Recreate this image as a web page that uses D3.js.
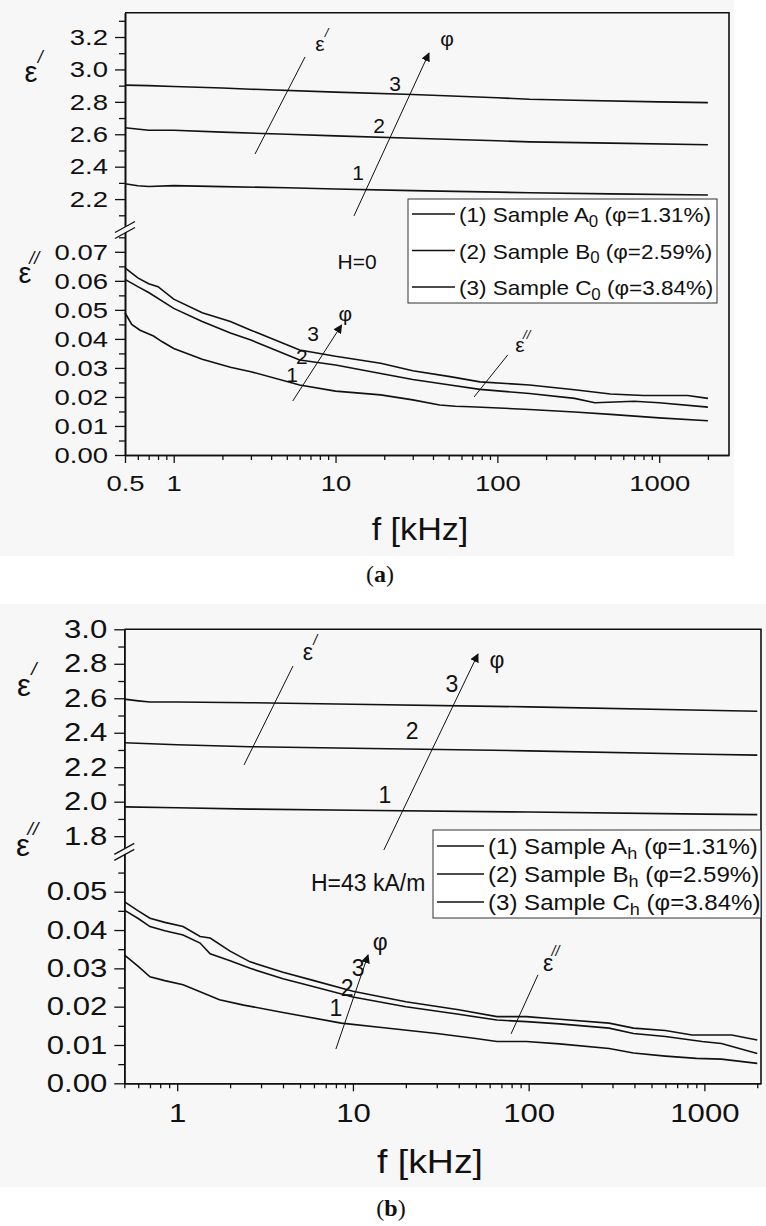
<!DOCTYPE html>
<html>
<head>
<meta charset="utf-8">
<script src="https://cdn.jsdelivr.net/npm/d3@7"></script>
<style>
  body { margin: 0; background: #fff; }
  svg { display: block; }
  text { font-family: "Liberation Sans", Arial, sans-serif; fill: #111; }
</style>
</head>
<body>
<svg id="chart" width="766" height="1226"></svg>
<script>
// ---------- data: [f in kHz, value] ----------
// (a) H = 0
const epsPrimeA1 = [[0.5,2.295],[0.6,2.282],[0.7,2.278],[1,2.283],[2,2.277],[5,2.27],[10,2.262],[30,2.252],[100,2.243],[158,2.239],[500,2.232],[2000,2.225]];
const epsPrimeA2 = [[0.5,2.64],[0.7,2.625],[1,2.625],[2,2.613],[5,2.60],[10,2.59],[30,2.575],[100,2.56],[158,2.553],[500,2.545],[2000,2.535]];
const epsPrimeA3 = [[0.5,2.903],[0.7,2.90],[1,2.895],[2,2.885],[3,2.878],[10,2.86],[30,2.845],[100,2.825],[158,2.816],[300,2.81],[1000,2.80],[2000,2.795]];
const epsLossA1 = [[0.5,0.049],[0.55,0.045],[0.62,0.043],[0.75,0.041],[0.85,0.039],[1,0.0367],[1.5,0.033],[2.24,0.0302],[3,0.0287],[6,0.0241],[10,0.022],[19,0.0207],[30,0.019],[44,0.0172],[55,0.0168],[68,0.0166],[158,0.0157],[300,0.0148],[500,0.014],[1000,0.0128],[2000,0.0118]];
const epsLossA2 = [[0.5,0.0605],[0.6,0.058],[0.7,0.056],[1,0.0505],[1.5,0.046],[2.24,0.042],[3,0.0396],[6,0.0327],[10,0.031],[19,0.0281],[30,0.026],[51,0.0241],[78,0.0226],[158,0.0212],[300,0.0195],[400,0.018],[700,0.0185],[1000,0.018],[2000,0.0165]];
const epsLossA3 = [[0.5,0.0645],[0.6,0.061],[0.7,0.059],[0.8,0.058],[1,0.0537],[1.5,0.049],[2.24,0.046],[3,0.043],[6,0.0362],[10,0.034],[19,0.0316],[30,0.029],[51,0.027],[78,0.0252],[158,0.0241],[300,0.0225],[500,0.021],[800,0.0205],[1500,0.0205],[2000,0.0195]];

// (b) H = 43 kA/m
const epsPrimeB1 = [[0.5,1.97],[1,1.965],[2.6,1.957],[10,1.95],[100,1.94],[1000,1.928],[2000,1.925]];
const epsPrimeB2 = [[0.5,2.342],[1,2.33],[2.6,2.319],[10,2.31],[100,2.295],[1000,2.275],[2000,2.27]];
const epsPrimeB3 = [[0.5,2.595],[0.6,2.585],[0.7,2.578],[1,2.578],[2.6,2.574],[10,2.565],[100,2.55],[1000,2.53],[2000,2.525]];
const epsLossB1 = [[0.5,0.0335],[0.6,0.0305],[0.7,0.0278],[0.85,0.0268],[1.08,0.0257],[1.35,0.0239],[1.74,0.0218],[2.39,0.0204],[4,0.0185],[8.58,0.0157],[15,0.0145],[30,0.013],[50,0.0117],[66,0.0109],[97,0.0109],[150,0.0103],[287,0.0091],[395,0.0079],[600,0.0071],[902,0.0065],[1250,0.0063],[2000,0.0052]];
const epsLossB2 = [[0.5,0.0452],[0.6,0.043],[0.7,0.0409],[0.85,0.0398],[1.08,0.0387],[1.35,0.0366],[1.54,0.0338],[2,0.032],[2.6,0.030],[4,0.0273],[6,0.0252],[10,0.0225],[20,0.020],[40,0.018],[66,0.0165],[97,0.0161],[150,0.0155],[287,0.0144],[395,0.013],[600,0.0122],[970,0.0109],[1250,0.0104],[2000,0.0078]];
const epsLossB3 = [[0.5,0.0474],[0.6,0.045],[0.7,0.0431],[0.85,0.042],[1.08,0.0409],[1.35,0.0383],[1.54,0.0379],[2,0.0345],[2.6,0.0317],[4,0.029],[6,0.0268],[10,0.024],[20,0.0213],[40,0.0192],[66,0.0174],[97,0.0174],[150,0.0167],[287,0.0157],[395,0.0144],[600,0.0138],[850,0.0126],[1430,0.0126],[2000,0.0113]];

// tick values
const xTicksA = [0.5, 1, 10, 100, 1000];
const xTicksB = [1, 10, 100, 1000];
const yUpperTicksA = [2.2, 2.4, 2.6, 2.8, 3.0, 3.2];
const yLowerTicksA = [0, 0.01, 0.02, 0.03, 0.04, 0.05, 0.06, 0.07];
const yUpperTicksB = [1.8, 2.0, 2.2, 2.4, 2.6, 2.8, 3.0];
const yLowerTicksB = [0, 0.01, 0.02, 0.03, 0.04, 0.05];

// legend text
const legendA = [['(1) Sample A', '0', ' (φ=1.31%)'], ['(2) Sample B', '0', ' (φ=2.59%)'], ['(3) Sample C', '0', ' (φ=3.84%)']];
const legendB = [['(1) Sample A', 'h', ' (φ=1.31%)'], ['(2) Sample B', 'h', ' (φ=2.59%)'], ['(3) Sample C', 'h', ' (φ=3.84%)']];

// annotations, in data coordinates [f, value]
const annotA = {
  upperLine: [[6.48, 3.077], [3.18, 2.478]], upperLabel: [8.0, 3.163],
  upperArrow: [[13.0, 2.096], [37.8, 3.101]], upperPhi: [48.9, 3.188],
  upperNums: [[13.8, 2.361, '1'], [18.6, 2.651, '2'], [23.3, 2.916, '3']],
  lowerArrow: [[5.44, 0.0186], [10.9, 0.0448]], lowerPhi: [11.5, 0.0489],
  lowerNums: [[5.39, 0.0276, '1'], [6.2, 0.0338, '2'], [7.26, 0.042, '3']],
  lowerLine: [[116, 0.0345], [71.8, 0.020]], lowerLabel: [138, 0.0379],
  field: [13.6, 0.0665, 'H=0']
};
const annotB = {
  upperLine: [[4.56, 2.787], [2.4, 2.213]], upperLabel: [5.55, 2.868],
  upperArrow: [[15.0, 1.72], [51.5, 2.857]], upperPhi: [66, 2.822],
  upperNums: [[15.2, 2.039, '1'], [21.7, 2.41, '2'], [36.6, 2.683, '3']],
  lowerArrow: [[8.0, 0.00895], [12.2, 0.0335]], lowerPhi: [14.3, 0.0369],
  lowerNums: [[8.0, 0.0197, '1'], [9.26, 0.0249, '2'], [10.7, 0.0301, '3']],
  lowerLine: [[113, 0.0283], [79.4, 0.0129]], lowerLabel: [129, 0.0314],
  field: [12.2, 0.0523, 'H=43 kA/m']
};

const svg = d3.select('#chart');
svg.append('defs').append('marker')
  .attr('id', 'arrow').attr('viewBox', '0 0 10 10')
  .attr('refX', 9).attr('refY', 5)
  .attr('markerWidth', 9).attr('markerHeight', 9)
  .attr('markerUnits', 'userSpaceOnUse')
  .attr('orient', 'auto')
  .append('path').attr('d', 'M0,0 L10,5 L0,10 Z').attr('fill', '#111');

// the source figure has horizontally widened lettering
function stretch(sel, k) {
  sel.each(function () {
    const w = this.getComputedTextLength();
    if (w > 0) d3.select(this).attr('textLength', w * k).attr('lengthAdjust', 'spacingAndGlyphs');
  });
}

function epsText(g, x, y, primes, size) {
  g.append('text').attr('x', x).attr('y', y)
    .attr('text-anchor', 'middle').attr('dominant-baseline', 'central')
    .style('font-size', size + 'px').text('ε');
  g.append('text')
    .attr('x', x + size * 0.32).attr('y', y - size * 0.52)
    .attr('text-anchor', 'middle').attr('dominant-baseline', 'central')
    .style('font-size', size * 0.62 + 'px').style('font-style', 'italic')
    .text(primes === 1 ? '/' : '//');
}

function drawPanel(p) {
  const g = svg.append('g');
  g.append('rect').attr('x', 0).attr('y', p.bgTop).attr('width', p.bgRight).attr('height', p.bgBottom - p.bgTop)
    .attr('fill', '#f7f7f7');

  const x = d3.scaleLog().domain(p.xDomain).range([p.left, p.right]);
  const yUp = d3.scaleLinear().domain(p.upperDomain).range([p.breakY, p.top]);
  const yLo = d3.scaleLinear().domain(p.lowerDomain).range([p.bottom, p.breakY]);

  const fs = p.fontSize;

  // curves
  const lineUp = d3.line().x(d => x(d[0])).y(d => yUp(d[1]));
  const lineLo = d3.line().x(d => x(d[0])).y(d => yLo(d[1]));
  p.upperSeries.forEach(s => g.append('path').attr('d', lineUp(s))
    .attr('fill', 'none').attr('stroke', '#111').attr('stroke-width', 1.6));
  p.lowerSeries.forEach(s => g.append('path').attr('d', lineLo(s))
    .attr('fill', 'none').attr('stroke', '#111').attr('stroke-width', 1.6));

  // frame (top and right)
  g.append('path')
    .attr('d', `M${p.left},${p.top}H${p.right}V${p.bottom}`)
    .attr('fill', 'none').attr('stroke', '#111').attr('stroke-width', 1.6);

  const styleAxis = (sel, size) => {
    sel.selectAll('path.domain').attr('stroke', '#111').attr('stroke-width', 1.6);
    sel.selectAll('line').attr('stroke', '#111').attr('stroke-width', 1.3);
    sel.selectAll('text').style('font-size', size + 'px')
      .style('font-family', '"Liberation Sans", Arial, sans-serif').attr('fill', '#111');
    stretch(sel.selectAll('text'), 1.22);
  };

  // y axes
  const upMinor = d3.range(p.upperDomain[0] + 0.1, p.upperDomain[1] + 1e-9, 0.1)
    .map(v => +v.toFixed(2)).filter(v => !p.upperTicks.includes(v) && yUp(v) < p.breakY - 4);
  const loMinor = d3.range(0.005, p.lowerDomain[1] + 1e-9, 0.01).map(v => +v.toFixed(3))
    .filter(v => yLo(v) > p.breakY + 4);

  g.append('g').attr('transform', `translate(${p.left},0)`)
    .call(d3.axisLeft(yUp).tickValues(p.upperTicks).tickFormat(d3.format('.1f'))
      .tickSize(10).tickSizeOuter(0).tickPadding(7))
    .call(s => styleAxis(s, fs));
  g.append('g').attr('transform', `translate(${p.left},0)`)
    .call(d3.axisLeft(yUp).tickValues(upMinor).tickFormat('').tickSize(6).tickSizeOuter(0))
    .call(s => styleAxis(s, fs));
  g.append('g').attr('transform', `translate(${p.left},0)`)
    .call(d3.axisLeft(yLo).tickValues(p.lowerTicks).tickFormat(d3.format('.2f'))
      .tickSize(10).tickSizeOuter(0).tickPadding(7))
    .call(s => styleAxis(s, fs));
  g.append('g').attr('transform', `translate(${p.left},0)`)
    .call(d3.axisLeft(yLo).tickValues(loMinor).tickFormat('').tickSize(6).tickSizeOuter(0))
    .call(s => styleAxis(s, fs));

  // x axis
  const xMinor = [];
  [0.1, 1, 10, 100, 1000].forEach(dec => {
    for (let k = 2; k <= 9; k++) {
      const v = +(dec * k).toPrecision(3);
      if (v >= p.xDomain[0] && v <= p.xDomain[1] && !p.xTicks.includes(v)) xMinor.push(v);
    }
  });
  g.append('g').attr('transform', `translate(0,${p.bottom})`)
    .call(d3.axisBottom(x).tickValues(p.xTicks).tickFormat(d => String(d))
      .tickSize(8).tickSizeOuter(0).tickPadding(p.xPad))
    .call(s => styleAxis(s, fs));
  g.append('g').attr('transform', `translate(0,${p.bottom})`)
    .call(d3.axisBottom(x).tickValues(xMinor).tickFormat('').tickSize(5).tickSizeOuter(0))
    .call(s => styleAxis(s, fs));

  // axis break on the left axis
  const by = p.breakY;
  g.append('path')
    .attr('d', `M${p.left - 9},${by + 6} L${p.left + 9},${by - 4} L${p.left + 9},${by - 10} L${p.left - 9},${by} Z`)
    .attr('fill', '#f7f7f7');
  g.append('path')
    .attr('d', `M${p.left - 10},${by + 7} L${p.left + 10},${by - 4} M${p.left - 10},${by + 1} L${p.left + 10},${by - 10}`)
    .attr('stroke', '#111').attr('stroke-width', 1.3).attr('fill', 'none');

  // axis titles
  epsText(g, p.epsUp[0], p.epsUp[1], 1, p.epsSize);
  epsText(g, p.epsLo[0], p.epsLo[1], 2, p.epsSize);
  g.append('text').attr('x', p.xTitle[0]).attr('y', p.xTitle[1])
    .attr('text-anchor', 'middle').style('font-size', p.xTitleSize + 'px').text('f [kHz]')
    .call(s => stretch(s, 1.1));

  // annotations
  const a = p.annot;
  const afs = p.annotSize;
  const thin = sel => sel.attr('stroke', '#111').attr('stroke-width', 1).attr('fill', 'none');
  const label = (px, py, txt) => g.append('text').attr('x', px).attr('y', py)
    .attr('text-anchor', 'middle').attr('dominant-baseline', 'central')
    .style('font-size', afs + 'px').text(txt);

  g.append('line').attr('x1', x(a.upperLine[0][0])).attr('y1', yUp(a.upperLine[0][1]))
    .attr('x2', x(a.upperLine[1][0])).attr('y2', yUp(a.upperLine[1][1])).call(thin);
  epsText(g, x(a.upperLabel[0]), yUp(a.upperLabel[1]), 1, afs);
  g.append('line').attr('x1', x(a.upperArrow[0][0])).attr('y1', yUp(a.upperArrow[0][1]))
    .attr('x2', x(a.upperArrow[1][0])).attr('y2', yUp(a.upperArrow[1][1])).call(thin)
    .attr('marker-end', 'url(#arrow)');
  label(x(a.upperPhi[0]), yUp(a.upperPhi[1]), 'φ');
  a.upperNums.forEach(n => label(x(n[0]), yUp(n[1]), n[2]));

  g.append('line').attr('x1', x(a.lowerArrow[0][0])).attr('y1', yLo(a.lowerArrow[0][1]))
    .attr('x2', x(a.lowerArrow[1][0])).attr('y2', yLo(a.lowerArrow[1][1])).call(thin)
    .attr('marker-end', 'url(#arrow)');
  label(x(a.lowerPhi[0]), yLo(a.lowerPhi[1]), 'φ');
  a.lowerNums.forEach(n => label(x(n[0]), yLo(n[1]), n[2]));
  g.append('line').attr('x1', x(a.lowerLine[0][0])).attr('y1', yLo(a.lowerLine[0][1]))
    .attr('x2', x(a.lowerLine[1][0])).attr('y2', yLo(a.lowerLine[1][1])).call(thin);
  epsText(g, x(a.lowerLabel[0]), yLo(a.lowerLabel[1]), 2, afs);
  label(x(a.field[0]), yLo(a.field[1]), a.field[2]);

  // legend
  const L = p.legend;
  g.append('rect').attr('x', L.x).attr('y', L.y).attr('width', L.w).attr('height', L.h)
    .attr('fill', '#fff').attr('stroke', '#333').attr('stroke-width', 1);
  p.legendItems.forEach((item, i) => {
    const yy = L.y + L.first + i * L.step;
    g.append('line').attr('x1', L.x + 4).attr('x2', L.x + 4 + L.lineLen).attr('y1', yy).attr('y2', yy)
      .attr('stroke', '#111').attr('stroke-width', 1.6);
    const t = g.append('text').attr('x', L.x + 8 + L.lineLen).attr('y', yy)
      .attr('dominant-baseline', 'central').style('font-size', L.font + 'px');
    t.append('tspan').text(item[0]);
    t.append('tspan').attr('dy', L.font * 0.32).style('font-size', L.font * 0.75 + 'px').text(item[1]);
    t.append('tspan').attr('dy', -L.font * 0.32).text(item[2]);
    stretch(t, 1.07);
  });

  // caption
  const c = svg.append('text').attr('x', p.caption[0]).attr('y', p.caption[1])
    .attr('text-anchor', 'middle').style('font-family', '"Liberation Serif", "DejaVu Serif", serif')
    .style('font-size', '24px');
  c.append('tspan').text('(');
  c.append('tspan').style('font-weight', 'bold').text(p.captionLetter);
  c.append('tspan').text(')');
}

drawPanel({
  bgTop: 0, bgBottom: 556, bgRight: 734,
  left: 125, right: 729, top: 12.7, breakY: 231.5, bottom: 455,
  xDomain: [0.5, 2700], upperDomain: [2.0, 3.35], lowerDomain: [0, 0.077],
  upperTicks: yUpperTicksA, lowerTicks: yLowerTicksA, xTicks: xTicksA, xPad: 12,
  upperSeries: [epsPrimeA1, epsPrimeA2, epsPrimeA3],
  lowerSeries: [epsLossA1, epsLossA2, epsLossA3],
  fontSize: 22.5, annotSize: 21, epsSize: 29, epsUp: [31, 72], epsLo: [25, 273],
  xTitle: [420, 540], xTitleSize: 31,
  annot: annotA,
  legend: { x: 408, y: 199, w: 309, h: 104, first: 15, step: 36.5, lineLen: 43, font: 21 },
  legendItems: legendA,
  caption: [380, 582], captionLetter: 'a'
});

drawPanel({
  bgTop: 604, bgBottom: 1187, bgRight: 766,
  left: 124.3, right: 761, top: 629.3, breakY: 853.4, bottom: 1083.3,
  xDomain: [0.5, 2100], upperDomain: [1.7, 3.0], lowerDomain: [0, 0.06],
  upperTicks: yUpperTicksB, lowerTicks: yLowerTicksB, xTicks: xTicksB, xPad: 13,
  upperSeries: [epsPrimeB1, epsPrimeB2, epsPrimeB3],
  lowerSeries: [epsLossB1, epsLossB2, epsLossB3],
  fontSize: 25.5, annotSize: 23, epsSize: 31, epsUp: [24, 685], epsLo: [23, 845],
  xTitle: [430, 1173], xTitleSize: 34,
  annot: annotB,
  legend: { x: 433, y: 830, w: 328, h: 88, first: 16, step: 28, lineLen: 47, font: 22.5 },
  legendItems: legendB,
  caption: [391, 1216], captionLetter: 'b'
});
</script>
</body>
</html>
